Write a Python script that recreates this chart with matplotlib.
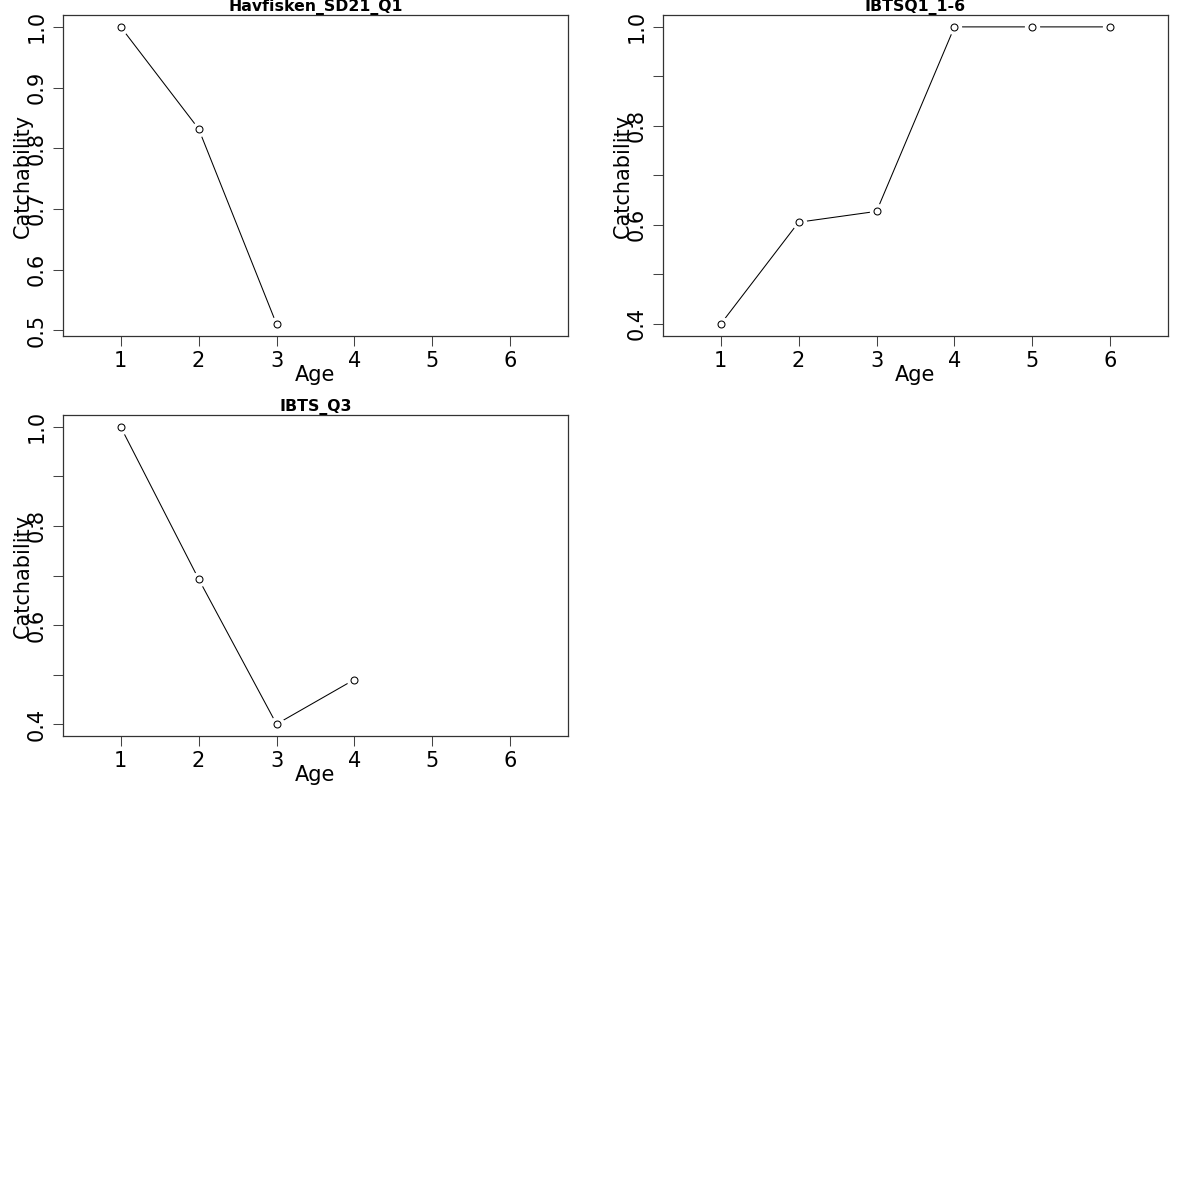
import matplotlib
matplotlib.use("Agg")
import matplotlib.pyplot as plt
import numpy as np

# catchability at age per survey fleet
ages_havfisken = [1, 2, 3]
q_havfisken = [1.0, 0.832, 0.51]

ages_ibtsq1 = [1, 2, 3, 4, 5, 6]
q_ibtsq1 = [0.399, 0.605, 0.627, 1.0, 1.0, 1.0]

ages_ibtsq3 = [1, 2, 3, 4]
q_ibtsq3 = [1.0, 0.693, 0.4, 0.49]

titles = ["Havfisken_SD21_Q1", "IBTSQ1_1-6", "IBTS_Q3"]
x_ticks = [1, 2, 3, 4, 5, 6]

plt.rcParams['font.family'] = ['DejaVu Sans']

W = 1200.0
fig = plt.figure(figsize=(12, 12), dpi=100)

# panel boxes in pixels: left, top, right, bottom
boxes = [(63, 15, 568, 336), (663, 15, 1168, 336), (63, 415, 568, 736)]
data = [(ages_havfisken, q_havfisken), (ages_ibtsq1, q_ibtsq1), (ages_ibtsq3, q_ibtsq3)]

FS = 15

for (l, t, r, b), (xs, ys), title in zip(boxes, data, titles):
    ax = fig.add_axes([l / W, 1 - b / W, (r - l) / W, (b - t) / W])
    ax.plot(xs, ys, color='black', lw=0.75, zorder=1)
    # white halo so the line stops short of each point (R type="b")
    ax.plot(xs, ys, 'o', ms=11, mfc='white', mec='none', zorder=2)
    ax.plot(xs, ys, 'o', ms=5, mfc='white', mec='black', mew=0.75, zorder=3)

    x0, x1 = 0.5, 6.5
    pad = (x1 - x0) * 0.04
    ax.set_xlim(x0 - pad, x1 + pad)
    lo, hi = min(ys), max(ys)
    ypad = (hi - lo) * 0.04
    ax.set_ylim(lo - ypad, hi + ypad)

    ax.set_xticks(x_ticks)
    yt = np.arange(np.ceil((lo - ypad) * 10 - 1e-9), np.floor((hi + ypad) * 10 + 1e-9) + 1) / 10.0
    ax.set_yticks(yt)
    if len(yt) > 6:
        labs = ["%.1f" % v if round(v * 10) % 2 == 0 else "" for v in yt]
    else:
        labs = ["%.1f" % v for v in yt]
    ax.set_yticklabels(labs)

    ax.tick_params(axis='both', direction='out', length=7, width=0.75,
                   labelsize=FS, color='#444444')
    ax.tick_params(axis='x', pad=4)
    ax.tick_params(axis='y', pad=5, labelrotation=90)
    for lab in ax.get_yticklabels():
        lab.set_va('center')
    for sp in ax.spines.values():
        sp.set_linewidth(0.9)
        sp.set_color('#333333')

    ax.set_xlabel('Age', fontsize=FS)
    ax.xaxis.set_label_coords(0.5, -(375 - 336) / 321.0)
    ax.xaxis.label.set_va('center')
    ax.set_ylabel('Catchability', fontsize=FS)
    ax.yaxis.set_label_coords(-(63 - 23) / 505.0, 0.5)
    ax.yaxis.label.set_va('center')

    ax.set_title(title, fontsize=11.3, fontweight='bold', pad=-2.2)

fig.savefig('out.png', dpi=100, facecolor='white')
